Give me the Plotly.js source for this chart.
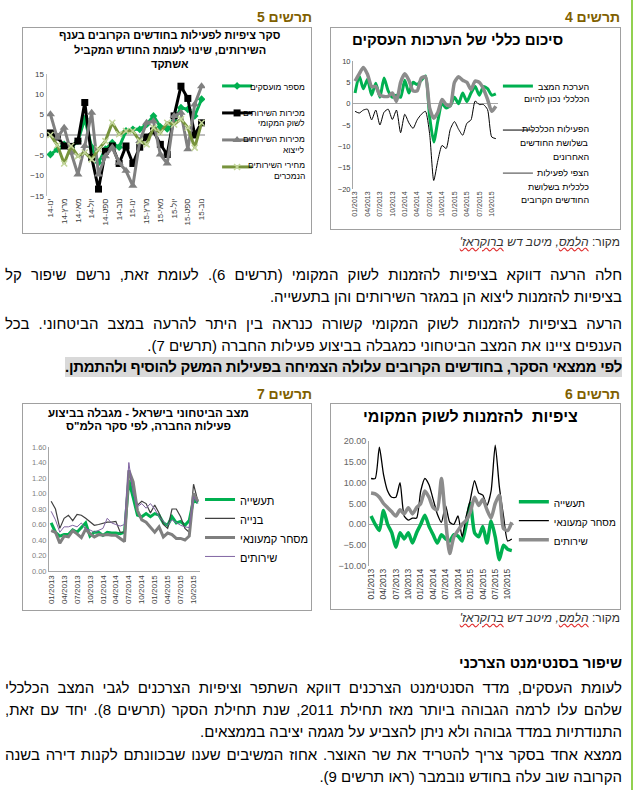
<!DOCTYPE html>
<html lang="he">
<head>
<meta charset="utf-8">
<script src="https://cdn.plot.ly/plotly-3.0.1.min.js"></script>
<style>
html,body{margin:0;padding:0;background:#fff;}
#page{position:relative;width:635px;height:790px;overflow:hidden;font-family:"Liberation Sans",Arial,sans-serif;color:#000;background:#fff;}
.fig{position:absolute;}
.box{position:absolute;border:1px solid #a0a0a0;box-sizing:border-box;pointer-events:none;}
.lbl{position:absolute;font-weight:bold;font-size:14px;color:#7f6000;direction:rtl;white-space:nowrap;line-height:16px;}
.src{position:absolute;font-size:12px;color:#333;direction:rtl;white-space:nowrap;line-height:14px;}
.src i span{text-decoration:underline wavy #e03030;}
.line{position:absolute;left:5px;width:617px;direction:rtl;font-size:15px;line-height:20px;white-space:nowrap;}
.full{text-align:justify;text-align-last:justify;white-space:normal;}
.hl{background:#d9d9d9;font-weight:bold;display:inline-block;line-height:20px;letter-spacing:-0.3px;}
.vbar{position:absolute;left:631px;top:0;width:2px;height:790px;background:#92d050;}
</style>
</head>
<body>
<div id="page">
  <div class="vbar"></div>

  <div class="lbl" style="right:15px;top:9px;">תרשים 4</div>
  <div class="lbl" style="right:323px;top:9px;">תרשים 5</div>

  <div id="c4" class="fig" style="left:330px;top:27px;"></div>
  <div class="box" style="left:330px;top:27px;width:291px;height:203px;"></div>
  <div id="c5" class="fig" style="left:22px;top:27px;"></div>
  <div class="box" style="left:22px;top:27px;width:290px;height:207px;"></div>

  <div class="src" style="right:15px;top:235px;">מקור: <i><span>הלמס</span>, מיטב דש <span>ברוקראז'</span></i></div>

  <div class="line full" style="top:265px;">חלה הרעה דווקא בציפיות להזמנות לשוק המקומי (תרשים 6). לעומת זאת, נרשם שיפור קל</div>
  <div class="line" style="top:287px;">בציפיות להזמנות ליצוא הן במגזר השירותים והן בתעשייה.</div>
  <div class="line full" style="top:314px;">הרעה בציפיות להזמנות לשוק המקומי קשורה כנראה בין היתר להרעה במצב הביטחוני. בכל</div>
  <div class="line" style="top:336px;">הענפים ציינו את המצב הביטחוני כמגבלה בביצוע פעילות החברה (תרשים 7).</div>
  <div class="line" style="top:357px;"><span class="hl">לפי ממצאי הסקר, בחודשים הקרובים עלולה הצמיחה בפעילות המשק להוסיף ולהתמתן.</span></div>

  <div class="lbl" style="right:15px;top:386px;">תרשים 6</div>
  <div class="lbl" style="right:323px;top:386px;">תרשים 7</div>

  <div id="c6" class="fig" style="left:330px;top:403px;"></div>
  <div class="box" style="left:330px;top:403px;width:291px;height:207px;"></div>
  <div id="c7" class="fig" style="left:22px;top:403px;"></div>
  <div class="box" style="left:22px;top:403px;width:290px;height:208px;"></div>

  <div class="src" style="right:15px;top:611px;">מקור: <i><span>הלמס</span>, מיטב דש <span>ברוקראז'</span></i></div>

  <div class="line" style="top:653px;font-weight:bold;">שיפור בסנטימנט הצרכני</div>
  <div class="line full" style="top:678px;">לעומת העסקים, מדד הסנטימנט הצרכנים דווקא השתפר וציפיות הצרכנים לגבי המצב הכלכלי</div>
  <div class="line full" style="top:700px;">שלהם עלו לרמה הגבוהה ביותר מאז תחילת 2011, שנת תחילת הסקר (תרשים 8). יחד עם זאת,</div>
  <div class="line" style="top:722px;">התנודתיות במדד גבוהה ולא ניתן להצביע על מגמה יציבה בממצאים.</div>
  <div class="line full" style="top:745px;">ממצא אחד בסקר צריך להטריד את שר האוצר. אחוז המשיבים שענו שבכוונתם לקנות דירה בשנה</div>
  <div class="line" style="top:767px;">הקרובה שוב עלה בחודש נובמבר (ראו תרשים 9).</div>
</div>

<script>
// ---------- categories ----------
const months = ["01/2013","02/2013","03/2013","04/2013","05/2013","06/2013","07/2013","08/2013","09/2013","10/2013","11/2013","12/2013",
  "01/2014","02/2014","03/2014","04/2014","05/2014","06/2014","07/2014","08/2014","09/2014","10/2014","11/2014","12/2014",
  "01/2015","02/2015","03/2015","04/2015","05/2015","06/2015","07/2015","08/2015","09/2015","10/2015","11/2015"];
const monthsHe = ["ינו-14","פבר-14","מרץ-14","אפר-14","מאי-14","יונ-14","יול-14","אוג-14","ספט-14","אוק-14","נוב-14","דצמ-14",
  "ינו-15","פבר-15","מרץ-15","אפר-15","מאי-15","יונ-15","יול-15","אוג-15","ספט-15","אוק-15","נוב-15"];

// ---------- chart 4: business assessments ----------
const c4Current = [2.5,6.5,3.5,5.7,2,4.8,1.5,6,3,1.5,2,1.5,5.5,2.5,5,4.5,5.5,6.5,-3,-9,-4,0,-1,-0.5,1.5,0,2.5,0.5,2.5,4,2,4,3.5,2,2.3];
const c4Past = [-1.8,-2.2,-1.5,-1.3,-3.8,-1.5,-5,-2,-1.3,-3.7,-1.5,-6.8,-2.5,-4.5,-5.8,-3.8,-2.5,-1.8,-7,-18,-13.3,-9.8,-10.5,-6,-4.2,-6,-7.4,-4.6,-3.8,0.6,-0.2,-0.2,-1.4,-7.8,-8.2];
const c4Future = [5.3,7,8.5,6.9,4,4,2,1.7,1.7,2.5,0.5,5,7,5.5,3,3,6,6.3,-1,-3.4,-2,1,-0.2,-0.5,5,6.3,5.5,5,3.3,5.3,5,3.5,1,-1.8,-0.6];
const c4Names = [["הערכת המצב","הכלכלי נכון להיום"],["הפעילות הכלכלית","בשלושת החודשים","האחרונים"],["הצפי לפעילות","כלכלית בשלושת","החודשים הקרובים"]];
const c4Title = ["סיכום כללי של הערכות העסקים"];

// ---------- chart 5: services survey ----------
const c5Emp = [-4.8,-3.5,-2.3,-3,-1.5,4,-3,-6.8,-3.5,-1.9,-3,1,1.4,1.4,2.6,4.7,2,1.5,3.4,6.7,6.3,4.7,8.8];
const c5Local = [0.5,-0.5,-2.7,-2.8,-1.5,8,-5.5,-13.3,-4,-2.7,-7,-2.7,-7,-3,-0.5,1,-2.3,-4.8,4.7,12,9,0,3];
const c5Export = [5.1,-0.7,1.8,-4.3,-9.7,-2.7,5.5,-9.7,-5.2,-3.1,-6.8,-8.8,-12.5,-1.5,3,3.4,-4.8,-7,4.7,5.5,-3.5,7.5,12];
const c5Price = [0,-2.5,-7,-2.7,-5.2,-4.3,-6,-3.5,-1.5,3,0.2,1,1,-1.5,-2.3,1.8,0.6,3,2.6,3.9,1.8,-3.1,3];
const c5Names = [["מספר מועסקים"],["מכירות השירותים","לשוק המקומי"],["מכירות השירותים","לייצוא"],["מחירי השירותים","הנמכרים"]];
const c5Title = ["סקר ציפיות לפעילות בחודשים הקרובים בענף","השירותים, שינוי לעומת החודש המקביל","אשתקד"];

// ---------- chart 6: expected orders, local market ----------
const c6Ind = [2,0,-1.5,3.3,0,-2,-5.5,-2,-3.5,-2,-4.5,-2,0,2.2,-0.5,-2.5,-4.5,-2.5,-3.5,-4,-2.5,-2.8,-4,0,5,-2,-3,-0.5,-4.5,0.8,-3,-8.5,-5,-6,-6.3];
const c6Retail = [11,11,18.5,12,8,6.5,6.5,10,2,1,1.5,1.5,8,11,9.5,6,2.5,0.5,4.5,0.5,0,2,-3,2,6,10.5,7.5,7,4.5,8,19,9,2,-4,-3.5];
const c6Serv = [7.5,7.3,6.5,5,4,3,2,3.5,2.5,4,2.5,4,5,8,6.5,4,3.5,11,1,-7,-3,-1.5,0,1,3,6.5,4.5,6,3.5,1.5,5,7,-1,-1.5,0.5];
const c6Names = ["תעשייה","מסחר קמעונאי","שירותים"];
const c6Title = ["ציפיות  להזמנות לשוק המקומי"];

// ---------- chart 7: security situation as constraint ----------
const c7Ind = [0.62,0.5,0.45,0.47,0.47,0.53,0.5,0.56,0.62,0.45,0.5,0.5,0.46,0.5,0.49,0.49,0.48,0.5,1.17,0.95,0.72,0.7,0.74,0.7,0.74,0.72,0.62,0.59,0.7,0.62,0.64,0.59,0.65,0.92,0.88];
const c7Cons = [0.9,0.8,0.55,0.68,0.72,0.65,0.73,0.72,0.68,0.63,0.59,0.6,0.62,0.63,0.63,0.64,0.5,0.5,1.3,1.05,0.85,0.9,0.87,0.75,0.85,0.75,0.6,0.55,0.8,0.8,0.7,0.55,0.5,1.12,0.9];
const c7Retail = [0.52,0.5,0.36,0.45,0.44,0.52,0.48,0.43,0.54,0.48,0.44,0.47,0.46,0.47,0.46,0.46,0.42,0.38,1.3,1.15,0.78,0.66,0.63,0.57,0.5,0.57,0.44,0.49,0.47,0.42,0.42,0.4,0.45,1.0,0.9];
const c7Serv = [0.77,0.66,0.5,0.57,0.57,0.59,0.57,0.62,0.54,0.53,0.5,0.52,0.55,0.68,0.62,0.6,0.58,0.6,1.4,1.0,0.83,0.87,0.81,0.87,0.8,0.7,0.64,0.59,0.66,0.62,0.59,0.57,0.56,0.96,0.87];
const c7Names = ["תעשייה","בנייה","מסחר קמעונאי","שירותים"];
const c7Title = ["מצב הביטחוני בישראל - מגבלה בביצוע","פעילות החברה, לפי סקר הלמ\"ס"];

const FONT = "Liberation Sans, Arial, sans-serif";
const cfg = {staticPlot:true, displayModeBar:false};

function base(w,h,m){
  return {width:w,height:h,margin:m,paper_bgcolor:'rgba(0,0,0,0)',plot_bgcolor:'rgba(0,0,0,0)',
    font:{family:FONT,color:'#000'},showlegend:true,annotations:[]};
}
// pixel position inside a chart box -> paper coordinates
function P(L,xr,yr){
  const m=L.margin; return {x:(xr-m.l)/(L.width-m.l-m.r), y:1-(yr-m.t)/(L.height-m.t-m.b)};
}
// one single-line text (multi-line Hebrew svg text is anchored badly, so each line is its own annotation)
function txt(L,text,xr,yr,size,xanchor,bold){
  const p=P(L,xr,yr);
  L.annotations.push({text:bold?'<b>'+text+'</b>':text,x:p.x,y:p.y,xref:'paper',yref:'paper',xanchor:xanchor,yanchor:'middle',
    showarrow:false,font:{family:FONT,size:size,color:'#000'}});
}
function legendAt(x,y,size,gap){
  return {x:x,y:y,xref:'container',yref:'container',xanchor:'left',yanchor:'top',
    font:{family:FONT,size:size,color:'#000'},bgcolor:'rgba(0,0,0,0)',borderwidth:0,
    tracegroupgap:gap,traceorder:'grouped',valign:'top',itemwidth:30};
}
function catAxis(n,dtick,size){
  return {type:'category',range:[-0.5,n-0.5],tickmode:'linear',tick0:0,dtick:dtick,tickangle:-90,
    tickfont:{family:FONT,size:size,color:'#404040'},showgrid:false,zeroline:false,showline:false,ticks:'',fixedrange:true};
}
function line(x,y,name,color,width,grp,shape,extra){
  const t = {x:x,y:y,name:name,type:'scatter',mode:'lines',legendgroup:grp,
    line:{color:color,width:width,shape:shape||'linear',smoothing:0.6}};
  return Object.assign(t, extra||{});
}

// chart 4
(function(){
  const L = base(290,202,{l:23,r:112,t:34,b:40,pad:0});
  txt(L,c4Title[0],135,12,15,'center',true);
  // legend text, right aligned like the original
  const rows=[[60,72],[102,116,130],[146,160,173]];
  c4Names.forEach(function(nm,i){ nm.forEach(function(s,j){ txt(L,s,278,rows[i][j],9,'right'); }); });
  L.xaxis = catAxis(months.length,3,7);
  L.yaxis = {range:[-20,10],tickmode:'linear',tick0:-20,dtick:5,tickfont:{family:FONT,size:7.5,color:'#404040'},
    showgrid:false,zeroline:true,zerolinecolor:'#a6a6a6',zerolinewidth:1,showline:true,linecolor:'#a6a6a6',linewidth:1,ticks:''};
  L.legend = legendAt(0.579,0.772,10,25);
  Plotly.newPlot('c4',[
    line(months,c4Current,'','#00b050',3,'a','spline'),
    line(months,c4Past,'','#000000',1,'b','spline'),
    line(months,c4Future,'','#8c8c8c',3.5,'c','spline')
  ],L,cfg);
})();

// chart 5
(function(){
  const L = base(289,206,{l:25,r:106,t:47,b:37,pad:0});
  [8,23,37].forEach(function(y,i){ txt(L,c5Title[i],148,y,11,'center',true); });
  const rows=[[60],[86,96],[112,123],[138,149]];
  c5Names.forEach(function(nm,i){ nm.forEach(function(s,j){ txt(L,s,285,rows[i][j],8.5,'right'); }); });
  L.xaxis = catAxis(monthsHe.length,2,8);
  L.yaxis = {range:[-15,15],tickmode:'linear',tick0:-15,dtick:5,tickfont:{family:FONT,size:8,color:'#404040'},
    showgrid:false,zeroline:true,zerolinecolor:'#bfbfbf',zerolinewidth:2,showline:true,linecolor:'#bfbfbf',linewidth:1.5,ticks:''};
  L.legend = legendAt(0.675,0.777,10,8);
  Plotly.newPlot('c5',[
    line(monthsHe,c5Emp,'','#00b050',3,'a','linear',{mode:'lines+markers',marker:{symbol:'diamond',size:6,color:'#00b050'}}),
    line(monthsHe,c5Local,'','#000000',3,'b','linear',{mode:'lines+markers',marker:{symbol:'square',size:7,color:'#000000'}}),
    line(monthsHe,c5Export,'','#808080',3,'c','linear',{mode:'lines+markers',marker:{symbol:'triangle-up',size:8,color:'#808080'}}),
    line(monthsHe,c5Price,'','#77933c',3,'d','linear',{mode:'lines+markers',marker:{symbol:'x-thin',size:6,color:'#c3d69b',line:{color:'#c3d69b',width:1.5}}})
  ],L,cfg);
})();

// chart 6
(function(){
  const L = base(290,206,{l:39,r:98,t:38,b:43,pad:0});
  txt(L,c6Title[0],146,13,16,'center',true);
  L.xaxis = catAxis(months.length,3,8.5);
  L.yaxis = {range:[-10,20],tickmode:'linear',tick0:-10,dtick:5,tickformat:'.2f',tickfont:{family:FONT,size:9,color:'#666666'},
    showgrid:false,zeroline:true,zerolinecolor:'#a6a6a6',zerolinewidth:1,showline:true,linecolor:'#a6a6a6',linewidth:1,ticks:''};
  L.legend = legendAt(0.634,0.584,10,0);
  Plotly.newPlot('c6',[
    line(months,c6Ind,c6Names[0],'#00b050',3.5,'a','spline'),
    line(months,c6Retail,c6Names[1],'#000000',1.3,'b','spline'),
    line(months,c6Serv,c6Names[2],'#8c8c8c',3.5,'c','spline')
  ],L,cfg);
})();

// chart 7
(function(){
  const L = base(289,207,{l:27,r:101,t:44,b:39,pad:0});
  [10,23].forEach(function(y,i){ txt(L,c7Title[i],133,y,11.5,'center',true); });
  L.xaxis = Object.assign(catAxis(months.length,3,8),{showline:true,linecolor:'#a6a6a6',linewidth:1});
  L.yaxis = {range:[0,1.6],tickmode:'linear',tick0:0,dtick:0.2,tickformat:'.2f',tickfont:{family:FONT,size:7.5,color:'#7f7f7f'},
    showgrid:false,zeroline:false,showline:true,linecolor:'#a6a6a6',linewidth:1,ticks:''};
  L.legend = legendAt(0.616,0.6,11,0);
  Plotly.newPlot('c7',[
    line(months,c7Ind,c7Names[0],'#00b050',3,'a'),
    line(months,c7Cons,c7Names[1],'#404040',1.2,'b'),
    line(months,c7Retail,c7Names[2],'#7f7f7f',3,'c'),
    line(months,c7Serv,c7Names[3],'#8064a2',1,'d')
  ],L,cfg);
})();
</script>
</body>
</html>
